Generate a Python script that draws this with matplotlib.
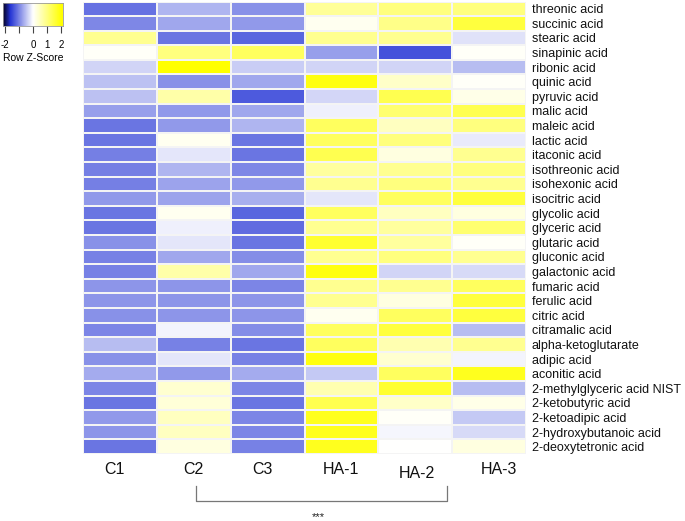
import numpy as np
import matplotlib
matplotlib.use('Agg')
import matplotlib.pyplot as plt
from matplotlib.colors import LinearSegmentedColormap, Normalize
from matplotlib.lines import Line2D

plt.rcParams['font.family'] = ['Liberation Sans', 'DejaVu Sans']

# 样本与代谢物
samples = ['C1', 'C2', 'C3', 'HA-1', 'HA-2', 'HA-3']
metabolites = [
    'threonic acid', 'succinic acid', 'stearic acid', 'sinapinic acid',
    'ribonic acid', 'quinic acid', 'pyruvic acid', 'malic acid',
    'maleic acid', 'lactic acid', 'itaconic acid', 'isothreonic acid',
    'isohexonic acid', 'isocitric acid', 'glycolic acid', 'glyceric acid',
    'glutaric acid', 'gluconic acid', 'galactonic acid', 'fumaric acid',
    'ferulic acid', 'citric acid', 'citramalic acid', 'alpha-ketoglutarate',
    'adipic acid', 'aconitic acid', '2-methylglyceric acid NIST',
    '2-ketobutyric acid', '2-ketoadipic acid', '2-hydroxybutanoic acid',
    '2-deoxytetronic acid',
]

# Row Z-scores, one column per sample
z_c1 = [-1.12, -0.95, 0.87, 0.05, -0.34, -0.49, -0.49, -0.76, -1.09, -1.09,
        -1.01, -1.01, -1.01, -0.81, -1.09, -1.09, -0.86, -1.00, -1.00, -0.84,
        -0.84, -0.87, -0.96, -0.52, -0.87, -0.67, -0.96, -1.09, -0.81, -0.84,
        -1.09]
z_c2 = [-0.58, -0.70, -1.09, 1.00, 2.00, -0.87, 0.68, -0.81, -0.81, 0.12,
        -0.20, -0.58, -0.73, -0.73, 0.12, -0.12, -0.20, -0.70, 0.68, -0.84,
        -0.84, -0.84, -0.08, -1.00, -0.20, -0.81, 0.37, 0.31, 0.49, 0.49,
        0.24]
z_c3 = [-0.87, -0.81, -1.21, 1.25, -0.40, -0.70, -1.30, -0.70, -0.58, -1.09,
        -1.09, -0.95, -0.81, -0.64, -1.21, -1.17, -1.09, -0.90, -0.70, -0.96,
        -0.84, -0.84, -0.90, -1.09, -1.00, -0.67, -0.96, -1.09, -0.96, -0.96,
        -1.00]
z_ha1 = [0.80, 0.12, 0.87, -0.76, -0.34, 1.87, -0.32, -0.11, 1.25, 1.25,
         1.37, 0.75, 0.87, -0.20, 1.25, 0.87, 1.62, 0.87, 1.87, 0.87,
         0.87, 0.12, 1.25, 1.25, 1.87, -0.43, 0.62, 1.37, 1.75, 1.75,
         1.75]
z_ha2 = [1.00, 0.93, 0.87, -1.36, -0.34, 0.43, 1.37, 1.12, 0.49, 1.00,
         0.24, 0.87, 1.00, 1.25, 0.49, 0.75, 0.75, 1.00, -0.34, 0.87,
         0.24, 1.25, 1.50, 0.62, 0.37, 1.25, 1.62, 0.43, 0.05, -0.07,
         0.00]
z_ha3 = [1.00, 1.50, -0.23, 0.05, -0.52, 0.05, 0.18, 1.37, 1.00, -0.17,
         0.87, 1.00, 0.87, 1.50, 0.24, 1.12, 0.05, 0.87, -0.29, 1.25,
         1.50, 1.50, -0.52, 0.87, -0.08, 1.75, -0.52, 0.18, -0.43, -0.29,
         0.24]

data = np.column_stack([z_c1, z_c2, z_c3, z_ha1, z_ha2, z_ha3])

cmap = LinearSegmentedColormap.from_list(
    'bwy', [(0.0, '#0a0a40'), (0.1, '#2535d5'), (0.5, '#ffffff'), (1.0, '#ffff00')])
norm = Normalize(vmin=-2, vmax=2)

fig = plt.figure(figsize=(6.85, 5.21), dpi=100)

# 热图
ax = fig.add_axes([83/685, 1 - 454/521, 443/685, 452.5/521])
ax.pcolormesh(data, cmap=cmap, norm=norm, edgecolors='#f4f4f4', linewidth=0.3)
ax.set_xlim(0, len(samples))
ax.set_ylim(len(metabolites), 0)
for s in ax.spines.values():
    s.set_visible(False)
ax.set_xticks([])
ax.yaxis.tick_right()
ax.set_yticks(np.arange(len(metabolites)) + 0.5)
ax.set_yticklabels(metabolites, fontsize=9, color='#111111')
ax.tick_params(axis='y', length=0, pad=4)

# 列标签（位置略有错落）
label_dx = [-0.08, 0.0, -0.07, 0.0, 0.02, 0.14]
label_y = [31.55, 31.55, 31.55, 31.55, 31.8, 31.55]
for i, lab in enumerate(samples):
    ax.text(i + 0.5 + label_dx[i], label_y[i], lab, ha='center', va='top',
            fontsize=11.5, color='#111111', clip_on=False)

# 显著性括号
over = fig.add_axes([0, 0, 1, 1], facecolor='none')
over.set_xlim(0, 685)
over.set_ylim(521, 0)
over.axis('off')
over.add_line(Line2D([196, 196, 447, 447], [486, 501, 501, 486],
                     color='#777777', lw=0.9))
over.text(318, 517, '***', ha='center', va='center', fontsize=8, color='#222222')

# 颜色键
kax = fig.add_axes([3.3/685, 1 - 26/521, 59.4/685, 23.3/521])
grad = np.linspace(-2.1, 2.1, 256).reshape(1, -1)
kax.imshow(grad, cmap=cmap, norm=norm, aspect='auto', extent=[-2.1, 2.1, 0, 1])
kax.set_yticks([])
kax.set_xticks([-2, -1, 0, 1, 2])
kax.set_xticklabels(['-2', '', '0', '1', '2'], fontsize=7)
kax.tick_params(axis='x', length=5, width=0.8, color='#444444', pad=5)
for s in kax.spines.values():
    s.set_color('#999999')
    s.set_linewidth(0.6)
fig.text(33/685, 1 - 58/521, 'Row Z-Score', ha='center', va='center', fontsize=7.5)

fig.savefig('out.png', dpi=100)
